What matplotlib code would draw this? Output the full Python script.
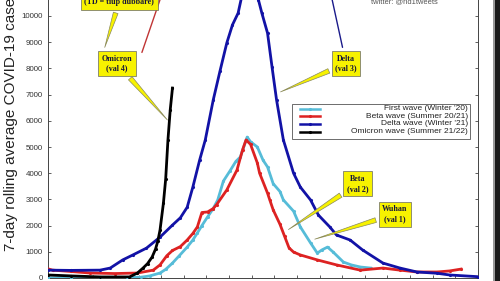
import matplotlib
matplotlib.use("Agg")
import matplotlib.pyplot as plt
from matplotlib.patches import Rectangle
from matplotlib.lines import Line2D

plt.rcParams['font.family'] = ['Liberation Sans', 'DejaVu Sans']

# ---- data (day since wave start, 7-day rolling average cases) ----
first_days = [0, 10, 23, 35, 41, 45, 49.5, 52, 55, 58, 61.5, 64, 66, 68, 70.5, 73, 75,
              77.5, 80.5, 83, 85, 88, 89.5, 92.5, 95, 97, 99.5, 102.5, 104, 108.5, 111.5,
              116, 119, 121, 123.5, 126, 130.5, 134, 138, 142.5]
first_vals = [0, 10, 10, 20, 30, 80, 190, 330, 570, 850, 1180, 1450, 1720, 2000, 2330, 2650,
              2980, 3700, 4100, 4450, 4620, 5380, 5200, 5000, 4500, 4240, 3600, 3300, 2980,
              2550, 1950, 1340, 950, 1070, 1180, 990, 610, 500, 420, 380]

beta_days = [0, 2, 10, 18.5, 29.5, 39.5, 46.5, 49.5, 52.5, 55, 58.5, 61.5, 64, 66, 68, 70.5,
             73, 74.5, 79, 83.5, 86, 87.5, 89.5, 92.5, 93.5, 97, 98, 99.5, 102.5, 104.5,
             106.5, 108.5, 111.5, 119, 127.5, 138, 148, 155.5, 163, 172, 177.5, 182.5]
beta_vals = [350, 300, 250, 190, 170, 190, 300, 500, 850, 1050, 1200, 1450, 1700, 1950, 2500,
             2520, 2650, 2800, 3360, 4120, 4900, 5270, 5100, 4390, 4000, 3240, 2980, 2600,
             2050, 1600, 1150, 990, 880, 690, 500, 300, 380, 300, 230, 230, 270, 340]

delta_days = [0, 10, 23, 27.5, 33, 37.5, 43.5, 49.5, 55, 58.5, 61.5, 64, 67, 69.5, 73, 76,
              79, 81.5, 84, 86, 88.5, 91, 93, 94.5, 97, 99, 101, 104, 108.5, 111.5, 116,
              119.5, 124.5, 127.5, 133.5, 139, 148, 155.5, 163, 172, 177.5, 190]
delta_vals = [300, 290, 300, 380, 690, 880, 1140, 1560, 2020, 2300, 2700, 3470, 4500, 5270,
              6790, 7900, 8970, 9660, 10110, 10900, 11700, 11200, 10610, 10110, 9350, 8050,
              6790, 5270, 4000, 3470, 2980, 2400, 1950, 1640, 1450, 1070, 570, 380, 230, 180,
              115, 50]

omicron_days = [0, 10, 23, 36, 39.5, 42, 44, 46, 47.5, 48.5, 49.5, 51, 52, 53, 54, 55]
omicron_vals = [115, 80, 40, 40, 190, 380, 550, 800, 1100, 1400, 1830, 2860, 3780, 5270,
                6410, 7250]

series_labels = ["First wave (Winter '20)", "Beta wave (Summer 20/21)",
                 "Delta wave (Winter '21)", "Omicron wave (Summer 21/22)"]
series_colors = ['#56bcd8', '#dd2222', '#1212a6', '#000000']

y_ticks = list(range(0, 11000, 1000))
x_ticks = list(range(0, 200, 10))

# ---- figure ----
fig = plt.figure(figsize=(5.0, 2.81), dpi=100)
ax = fig.add_axes([48 / 500, 3 / 281, 430 / 500, 314.4 / 281])
ax.set_xlim(0, 190)
ax.set_ylim(0, 12000)

series = [(first_days, first_vals), (beta_days, beta_vals),
          (delta_days, delta_vals), (omicron_days, omicron_vals)]
for (xs, ys), c, lab in zip(series, series_colors, series_labels):
    ax.plot(xs, ys, color=c, lw=2.0, marker='.', ms=2.5, label=lab, zorder=3)

ax.set_yticks(y_ticks)
ax.set_xticks(x_ticks)
ax.tick_params(axis='both', direction='in', length=2.3, width=0.6, color='#444',
               labelsize=5.7, labelcolor='#333333', pad=3.6,
               right=True, labelbottom=False)
for s in ax.spines.values():
    s.set_color('#444')
    s.set_linewidth(0.7)

ax.set_ylabel('7-day rolling average COVID-19 cases', fontsize=11, color='#222')
ax.yaxis.set_label_coords(-0.07, 0.5)

# ---- callouts ----
box = dict(boxstyle='square,pad=0.45', fc='#f7f200', ec='#666', lw=0.5)
wedge = dict(arrowstyle='wedge,tail_width=0.6,shrink_factor=0.5', fc='#f7f200',
             ec='#888860', lw=0.5)
tkw = dict(fontsize=5.8, fontweight='bold', family=['Liberation Serif', 'DejaVu Serif'],
           color='#15153a', ha='center', va='center', linespacing=1.3, zorder=6)

ax.annotate('(TD = tiup dubbare)', xy=(24.7, 8700), xytext=(31.4, 10520),
            bbox=box, arrowprops=wedge, **tkw)
ax.annotate('Omicron\n(val 4)', xy=(53.6, 5950), xytext=(30.5, 8190),
            bbox=box, arrowprops=wedge, **tkw)
ax.annotate('Delta\n(val 3)', xy=(101.6, 7060), xytext=(131.7, 8190),
            bbox=box, arrowprops=wedge, **tkw)
ax.annotate('Beta\n(val 2)', xy=(105.2, 1790), xytext=(136.8, 3590),
            bbox=box, arrowprops=wedge, **tkw)
ax.annotate('Wuhan\n(val 1)', xy=(116.7, 1450), xytext=(153.3, 2440),
            bbox=box, arrowprops=wedge, **tkw)

# connector lines running off the top
ax.annotate('', xy=(51.0, 11000), xytext=(41.1, 8510),
            arrowprops=dict(arrowstyle='-', color='#c03535', lw=1.0))
ax.annotate('', xy=(124.6, 11000), xytext=(130.4, 8700),
            arrowprops=dict(arrowstyle='-', color='#1a1a8a', lw=1.0))

ax.text(157.5, 10560, 'twitter: @rid1tweets', fontsize=5.4, color='#555',
        ha='center', va='center')

# ---- legend (right-aligned labels) ----
ax.add_patch(Rectangle((107.8, 5305), 78.7, 1336, fc='white', ec='#555', lw=0.6,
                       zorder=7))
row_vals = [6469, 6172, 5878, 5580]
for lab, c, yv in zip(series_labels, series_colors, row_vals):
    ax.add_line(Line2D([111.4, 120.2], [yv, yv], color=c, lw=1.8, zorder=8))
    ax.add_line(Line2D([115.8], [yv], color=c, marker='.', ms=2.5, zorder=8))
    ax.text(185.6, yv, lab, fontsize=6.0, color='#222', ha='right', va='center',
            zorder=8)

# dark frame edge at the right
fig.add_artist(Rectangle((493 / 500, 0), 2 / 500, 1, transform=fig.transFigure,
                         color='#999', lw=0))
fig.add_artist(Rectangle((495 / 500, 0), 5 / 500, 1, transform=fig.transFigure,
                         color='#1a1a1a', lw=0))

fig.savefig('out.png', dpi=100, facecolor='white')
